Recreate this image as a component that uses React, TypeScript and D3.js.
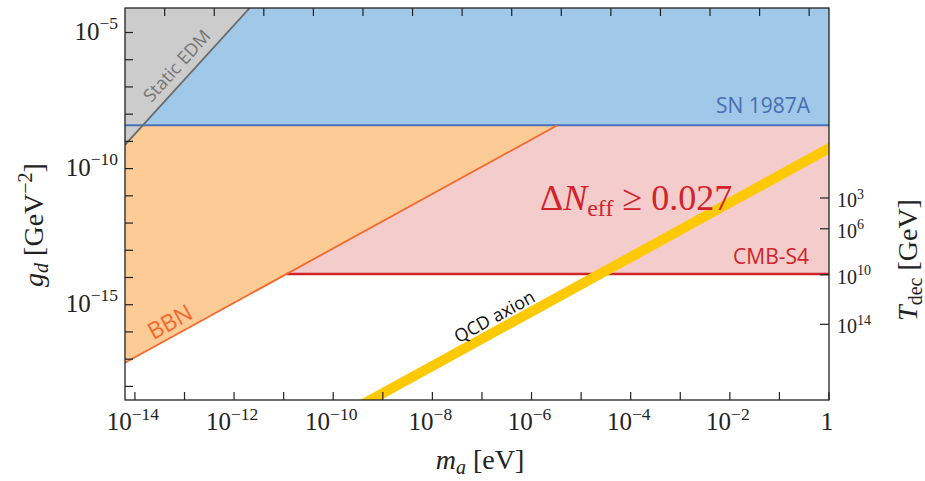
import React from 'react';
import * as d3 from 'd3';

// ---- data ----
const xMajorExps = [-14, -12, -10, -8, -6, -4, -2, 0];
const xMinorExps = [-13, -11, -9, -7, -5, -3, -1];
const topTickExps = [-13.4, -12.4, -11.4, -10.4, -9.4, -8.4, -7.4, -6.4, -5.4, -4.4, -3.4, -2.4, -1.4, -0.4];
const yTickExps = [-18, -17, -16, -15, -14, -13, -12, -11, -10, -9, -8, -7, -6, -5];
const yLabelExps = [-15, -10, -5];
const tdecLabels = ['3', '6', '10', '14'];
const tdecLogG = [-11.08, -12.21, -13.9, -15.72];
const snLogG = -8.41;
const cmbLogG = -13.87;
const bbnLine: [number, number][] = [[-14.2, -17.13], [-5.48, -8.41]];
const edmLine: [number, number][] = [[-14.2, -9.13], [-11.685, -4.1]];
const qcdLine: [number, number][] = [[-10, -19.25], [0.5, -8.75]];
const xDomainExp = [-14.2, 0];
const yDomainExp = [-18.5, -4.1];

const W = 925, H = 481;
const L = 125, R = 829, T = 8, B = 400;

const SERIF = "'Liberation Serif', 'DejaVu Serif', serif";
const SANS = "'Open Sans', 'Noto Sans', sans-serif";

export default function App() {
  const x = d3.scaleLog().domain([10 ** xDomainExp[0], 10 ** xDomainExp[1]]).range([L, R]);
  const y = d3.scaleLog().domain([10 ** yDomainExp[0], 10 ** yDomainExp[1]]).range([B, T]);
  const X = (e: number) => x(10 ** e);
  const Y = (e: number) => y(10 ** e);
  const line = d3.line<[number, number]>().x(d => X(d[0])).y(d => Y(d[1]));

  const bbnM = d3.scaleLinear().domain([bbnLine[0][1], bbnLine[1][1]]).range([bbnLine[0][0], bbnLine[1][0]]);
  const cmbStartM = bbnM(cmbLogG);
  const bbnAtSnM = bbnM(snLogG);

  const xMin = xDomainExp[0], yMax = yDomainExp[1];

  const orangePoly: [number, number][] = [[xMin, snLogG], [bbnAtSnM, snLogG], [bbnLine[0][0], bbnLine[0][1]]];
  const grayPoly: [number, number][] = [[xMin, yMax], [edmLine[1][0], edmLine[1][1]], [edmLine[0][0], edmLine[0][1]]];

  const tickFs = 25;
  const rFs = 20;
  const pow = (exp: number, fs: number) => (
    <>
      {'10'}
      <tspan dy={-0.42 * fs} fontSize={fs * 0.7}>{exp < 0 ? '\u2212' + Math.abs(exp) : String(exp)}</tspan>
    </>
  );

  const bbnAngle = Math.atan2(Y(bbnLine[1][1]) - Y(bbnLine[0][1]), X(bbnLine[1][0]) - X(bbnLine[0][0])) * 180 / Math.PI;
  const qcdAngle = Math.atan2(Y(qcdLine[1][1]) - Y(qcdLine[0][1]), X(qcdLine[1][0]) - X(qcdLine[0][0])) * 180 / Math.PI;
  const edmAngle = Math.atan2(Y(edmLine[1][1]) - Y(edmLine[0][1]), X(edmLine[1][0]) - X(edmLine[0][0])) * 180 / Math.PI;

  return (
    <svg width={W} height={H} style={{ position: 'absolute', left: 0, top: 0, background: '#fff' }}>
      <defs>
        <clipPath id="plot"><rect x={L} y={T} width={R - L} height={B - T} /></clipPath>
      </defs>
      <g clipPath="url(#plot)">
        <rect x={L} y={Y(snLogG)} width={R - L} height={Y(cmbLogG) - Y(snLogG)} fill="#f5cccc" />
        <path d={line(orangePoly)! + 'Z'} fill="#fdcb96" />
        <rect x={L} y={T} width={R - L} height={Y(snLogG) - T} fill="#9fc8e9" />
        <path d={line(grayPoly)! + 'Z'} fill="#cccccc" />
        <line x1={L} x2={R} y1={Y(snLogG)} y2={Y(snLogG)} stroke="#4a70b8" strokeWidth={2} />
        <line x1={X(cmbStartM)} x2={R} y1={Y(cmbLogG)} y2={Y(cmbLogG)} stroke="#d0232a" strokeWidth={2.5} />
        <path d={line(bbnLine)!} stroke="#f3692b" strokeWidth={1.8} fill="none" />
        <path d={line(edmLine)!} stroke="#6a6a6a" strokeWidth={1.8} fill="none" />
        <path d={line(qcdLine)!} stroke="#fdc903" strokeWidth={10} fill="none" />
      </g>

      {/* region labels */}
      <text x={177} y={72} transform={`rotate(${edmAngle} 177 66)`} textAnchor="middle" fontFamily={SANS} fontSize={18} fill="#767676">Static EDM</text>
      <text x={810} y={113} textAnchor="end" fontFamily={SANS} fontSize={21} fill="#4a6db3">SN 1987A</text>
      <text x={809} y={264} textAnchor="end" fontFamily={SANS} fontSize={21} fill="#d0232a">CMB-S4</text>
      <text x={170} y={330} transform={`rotate(${bbnAngle} 170 322)`} textAnchor="middle" fontFamily={SANS} fontSize={23} fill="#f3692b">BBN</text>
      <text x={494} y={323} transform={`rotate(${qcdAngle} 494 316)`} textAnchor="middle" fontFamily={SERIF === '' ? SANS : SANS} fontSize={18} fill="#111">QCD axion</text>
      <text x={540} y={210} fontFamily={SERIF} fontSize={36} fill="#d0232a">
        {'\u0394'}<tspan fontStyle="italic">N</tspan><tspan dy={6} fontSize={24}>eff</tspan><tspan dy={-6}>{' \u2265 0.027'}</tspan>
      </text>

      {/* spines */}
      <rect x={L} y={T} width={R - L} height={B - T} fill="none" stroke="#222" strokeWidth={1.3} />

      {/* bottom / top ticks */}
      {[...xMajorExps, ...xMinorExps].map(e => (
        <line key={'bx' + e} x1={X(e)} x2={X(e)} y1={B} y2={B - 8} stroke="#222" strokeWidth={1.2} />
      ))}
      {topTickExps.map(e => (
        <line key={'tx' + e} x1={X(e)} x2={X(e)} y1={T} y2={T + 8} stroke="#222" strokeWidth={1.2} />
      ))}
      {xMajorExps.map(e => (
        <text key={'xl' + e} x={X(e) - 2} y={430} textAnchor="middle" fontFamily={SERIF} fontSize={tickFs} fill="#222">
          {e === 0 ? '1' : pow(e, tickFs)}
        </text>
      ))}

      {/* left ticks */}
      {yTickExps.map(e => (
        <line key={'ly' + e} x1={L} x2={L + 8} y1={Y(e)} y2={Y(e)} stroke="#222" strokeWidth={1.2} />
      ))}
      {yLabelExps.map(e => (
        <text key={'yl' + e} x={118} y={Y(e) + 7} textAnchor="end" fontFamily={SERIF} fontSize={tickFs} fill="#222">
          {pow(e, tickFs)}
        </text>
      ))}

      {/* right T_dec axis */}
      {tdecLogG.map((g, i) => (
        <g key={'r' + i}>
          <line x1={R - 9} x2={R} y1={Y(g)} y2={Y(g)} stroke="#222" strokeWidth={1.2} />
          <text x={837} y={Y(g) + 9} fontFamily={SERIF} fontSize={rFs} fill="#222">
            {'10'}<tspan dy={-0.42 * rFs} fontSize={rFs * 0.7}>{tdecLabels[i]}</tspan>
          </text>
        </g>
      ))}

      {/* axis labels */}
      <text x={480} y={469} textAnchor="middle" fontFamily={SERIF} fontSize={28} fill="#222">
        <tspan fontStyle="italic">m</tspan><tspan dy={5} fontSize={20} fontStyle="italic">a</tspan><tspan dy={-5}>{' [eV]'}</tspan>
      </text>
      <text transform="translate(43,225) rotate(-90)" textAnchor="middle" fontFamily={SERIF} fontSize={28} fill="#222">
        <tspan fontStyle="italic">g</tspan><tspan dy={5} fontSize={20} fontStyle="italic">d</tspan><tspan dy={-5}>{' [GeV'}</tspan><tspan dy={-11} fontSize={20}>{'\u22122'}</tspan><tspan dy={11}>]</tspan>
      </text>
      <text transform="translate(917,260) rotate(-90)" textAnchor="middle" fontFamily={SERIF} fontSize={28} fill="#222">
        <tspan fontStyle="italic">T</tspan><tspan dy={5} fontSize={20}>dec</tspan><tspan dy={-5}>{' [GeV]'}</tspan>
      </text>
    </svg>
  );
}
